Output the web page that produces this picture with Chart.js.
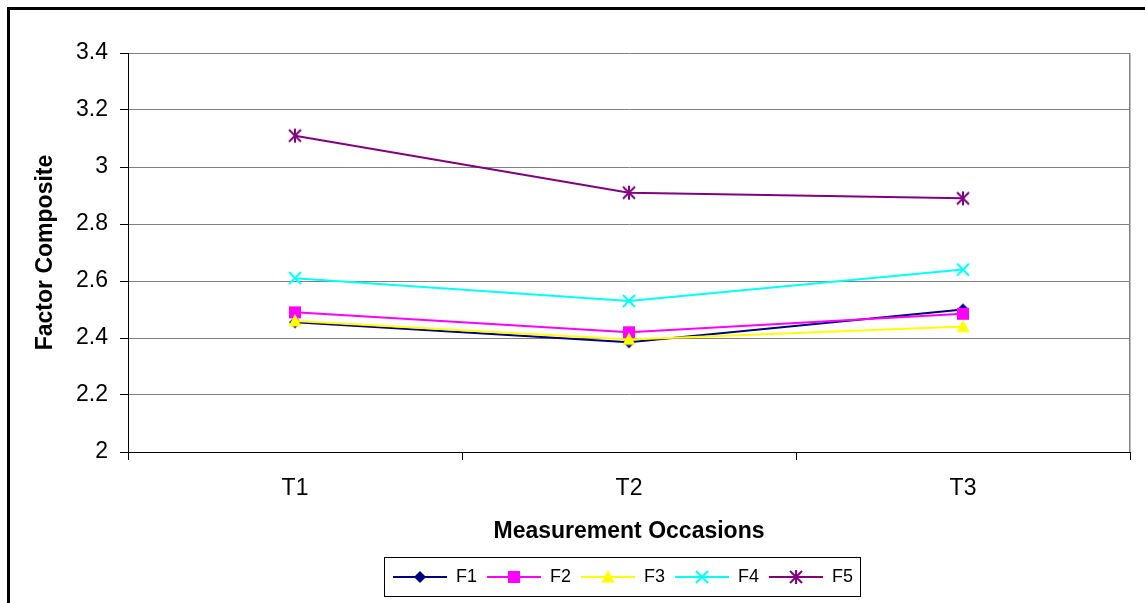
<!DOCTYPE html>
<html><head><meta charset="utf-8">
<script src="https://cdn.jsdelivr.net/npm/chart.js@4.4.0/dist/chart.umd.min.js"></script>
<style>html,body{margin:0;padding:0;background:#fff}#wrap{width:1145px;height:603px}</style>
</head><body><div id="wrap"><canvas id="c" width="1145" height="603"></canvas></div>
<script>
const categories = ['T1', 'T2', 'T3'];
const seriesNames = ['F1', 'F2', 'F3', 'F4', 'F5'];
const f1 = [2.455, 2.385, 2.50];
const f2 = [2.49, 2.42, 2.485];
const f3 = [2.46, 2.395, 2.44];
const f4 = [2.61, 2.53, 2.64];
const f5 = [3.11, 2.91, 2.89];
const yTicks = [2, 2.2, 2.4, 2.6, 2.8, 3, 3.2, 3.4];
const xTitle = 'Measurement Occasions';
const yTitle = 'Factor Composite';

const colors = ['#000080', '#FF00FF', '#FFFF00', '#00FFFF', '#800080'];
const markers = ['diamond', 'square', 'triangle', 'x', 'asterisk'];
const FONT = "'Liberation Sans', Arial, sans-serif";

function drawMarker(ctx, kind, cx, cy, color) {
  ctx.save();
  ctx.fillStyle = color; ctx.strokeStyle = color; ctx.lineWidth = 2;
  ctx.beginPath();
  if (kind === 'diamond') {
    ctx.moveTo(cx, cy - 6); ctx.lineTo(cx + 6, cy); ctx.lineTo(cx, cy + 6); ctx.lineTo(cx - 6, cy); ctx.closePath(); ctx.fill();
  } else if (kind === 'square') {
    ctx.rect(cx - 6, cy - 6, 12, 12); ctx.fill();
  } else if (kind === 'triangle') {
    ctx.moveTo(cx, cy - 7); ctx.lineTo(cx + 6.5, cy + 5.5); ctx.lineTo(cx - 6.5, cy + 5.5); ctx.closePath(); ctx.fill();
  } else if (kind === 'x') {
    ctx.moveTo(cx - 6, cy - 6); ctx.lineTo(cx + 6, cy + 6); ctx.moveTo(cx + 6, cy - 6); ctx.lineTo(cx - 6, cy + 6); ctx.stroke();
  } else if (kind === 'asterisk') {
    ctx.moveTo(cx - 6, cy - 6); ctx.lineTo(cx + 6, cy + 6); ctx.moveTo(cx + 6, cy - 6); ctx.lineTo(cx - 6, cy + 6);
    ctx.moveTo(cx, cy - 7); ctx.lineTo(cx, cy + 7); ctx.stroke();
  }
  ctx.restore();
}
function markerCanvas(kind, color) {
  const c = document.createElement('canvas'); c.width = 18; c.height = 18;
  drawMarker(c.getContext('2d'), kind, 9, 9, color); return c;
}
function legendCanvas(kind, color) {
  const c = document.createElement('canvas'); c.width = 54; c.height = 18;
  const g = c.getContext('2d');
  g.strokeStyle = color; g.lineWidth = 2; g.beginPath(); g.moveTo(0, 9); g.lineTo(54, 9); g.stroke();
  drawMarker(g, kind, 27, 9, color); return c;
}

const seriesData = [f1, f2, f3, f4, f5];
const datasets = seriesNames.map((n, i) => ({
  label: n, data: seriesData[i], borderColor: colors[i], backgroundColor: colors[i],
  borderWidth: 2, tension: 0, pointStyle: markerCanvas(markers[i], colors[i]),
  pointRadius: 6, pointHoverRadius: 6, order: seriesNames.length - i
}));

const LEGEND_SHIFT = 53;
const LEGEND_PAD = 10;
const framePlugin = {
  id: 'frame',
  afterLayout(chart) {
    const lg = chart.legend;
    if (lg) { lg.left += LEGEND_SHIFT; lg.right += LEGEND_SHIFT; }
  },
  beforeDraw(chart) {
    const ctx = chart.ctx; ctx.save();
    ctx.fillStyle = '#fff'; ctx.fillRect(0, 0, chart.width, chart.height);
    ctx.strokeStyle = '#000'; ctx.lineWidth = 3; ctx.strokeRect(8.5, 8.5, 1300, 800);
    ctx.restore();
  },
  beforeDatasetsDraw(chart) {
    const a = chart.chartArea, ctx = chart.ctx; ctx.save();
    ctx.strokeStyle = '#808080'; ctx.lineWidth = 1.5;
    ctx.beginPath(); ctx.moveTo(Math.round(a.right) - 0.25, a.top); ctx.lineTo(Math.round(a.right) - 0.25, a.bottom); ctx.stroke();
    ctx.restore();
  },
  afterDraw(chart) {
    const lg = chart.legend;
    if (!lg || !lg.lineWidths) return;
    const w = lg.lineWidths[0];
    const start = (lg.left + LEGEND_PAD + lg.right - w) / 2;
    const end = start + w - LEGEND_PAD;
    const cy = lg.top + LEGEND_PAD + 9;
    const ctx = chart.ctx; ctx.save(); ctx.strokeStyle = '#000'; ctx.lineWidth = 1;
    ctx.strokeRect(Math.round(start - 9) + 0.5, Math.round(cy - 20) + 0.5, Math.round(end - start + 16), 39);
    ctx.restore();
  }
};

new Chart(document.getElementById('c'), {
  type: 'line',
  data: { labels: categories, datasets },
  plugins: [framePlugin],
  options: {
    responsive: false, animation: false, devicePixelRatio: 1,
    layout: { padding: { left: 10, top: 53, right: 15, bottom: 7 } },
    plugins: {
      tooltip: { enabled: false },
      legend: {
        position: 'bottom', align: 'center',
        labels: {
          usePointStyle: true, pointStyleWidth: 54, padding: LEGEND_PAD, color: '#000',
          font: { family: FONT, size: 18 },
          generateLabels: (chart) => chart.data.datasets.map((d, i) => ({
            text: d.label, pointStyle: legendCanvas(markers[i], colors[i]),
            fillStyle: colors[i], strokeStyle: colors[i], lineWidth: 0, datasetIndex: i, hidden: false
          }))
        }
      }
    },
    scales: {
      x: {
        offset: true,
        afterFit: s => { s.height = 106; },
        grid: { offset: true, drawOnChartArea: false, drawTicks: true, tickLength: 8, tickColor: '#000' },
        border: { display: true, color: '#000', width: 1 },
        ticks: { color: '#000', font: { family: FONT, size: 23 }, padding: 15 },
        title: { display: true, text: xTitle, color: '#000', font: { family: FONT, size: 23, weight: 'bold' }, padding: { top: 0, bottom: 13 } }
      },
      y: {
        min: 2, max: 3.4,
        afterFit: s => { s.width = 118; },
        afterBuildTicks: s => { s.ticks = yTicks.map(v => ({ value: v })); },
        grid: { color: c => (c.tick && c.tick.value === 2) ? '#000' : '#808080', lineWidth: 1, tickLength: 8, tickColor: '#000' },
        border: { display: true, color: '#000', width: 1 },
        ticks: { color: '#000', font: { family: FONT, size: 23 }, padding: 12, callback: v => String(v) },
        title: { display: true, text: yTitle, color: '#000', font: { family: FONT, size: 23, weight: 'bold' }, padding: { top: 22, bottom: 0 } }
      }
    }
  }
});
</script></body></html>
